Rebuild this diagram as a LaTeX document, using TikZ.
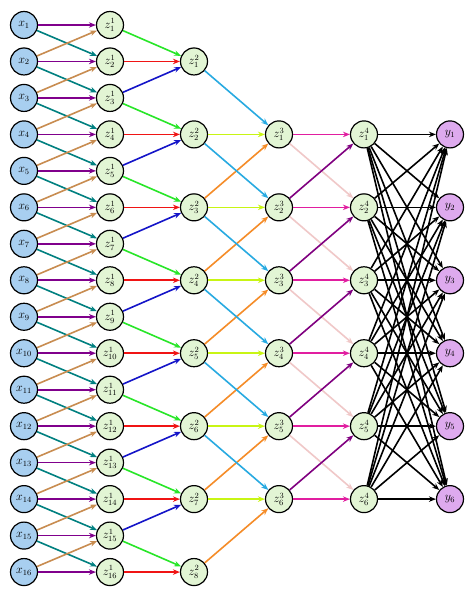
\documentclass[tikz,border=0pt]{standalone}
\usetikzlibrary{arrows.meta}
\definecolor{xfill}{RGB}{168,207,240}
\definecolor{zfill}{RGB}{226,245,212}
\definecolor{yfill}{RGB}{222,170,238}
\definecolor{cpurple}{RGB}{128,0,140}
\definecolor{cteal}{RGB}{0,128,128}
\definecolor{ctan}{RGB}{200,140,80}
\definecolor{cgreen}{RGB}{40,230,40}
\definecolor{cred}{RGB}{240,20,20}
\definecolor{cblue}{RGB}{20,20,200}
\definecolor{ccyan}{RGB}{40,170,225}
\definecolor{clime}{RGB}{200,245,20}
\definecolor{corange}{RGB}{245,140,40}
\definecolor{cmag}{RGB}{225,30,160}
\definecolor{cpink}{RGB}{240,200,200}
\definecolor{cdpurple}{RGB}{128,0,128}
\begin{document}
\begin{tikzpicture}[x=1pt,y=-1pt,
  nd/.style={circle,draw=black,line width=1.2pt,minimum size=27pt,inner sep=0pt,font=\large},
  xn/.style={nd,fill=xfill},
  zn/.style={nd,fill=zfill},
  yn/.style={nd,fill=yfill},
  ed/.style={line width=1.6pt,-{Stealth[length=7pt,width=5.5pt]}}]
\useasboundingbox (0,0) rectangle (474,597);
\fill[white] (0,0) rectangle (474,597);
\foreach \i in {1,...,16}{
  \pgfmathsetmacro\yy{25+(\i-1)*36.47}
  \node[xn] (x\i) at (24,\yy) {$x_{\i}$};
  \node[zn] (za\i) at (110,\yy) {$z^{1}_{\i}$};
}
\foreach \i in {1,...,8}{
  \pgfmathsetmacro\yy{25+(2*\i-1)*36.47}
  \node[zn] (zb\i) at (194,\yy) {$z^{2}_{\i}$};
}
\foreach \i in {1,...,6}{
  \pgfmathsetmacro\yy{25+(2*\i+1)*36.47}
  \node[zn] (zc\i) at (279,\yy) {$z^{3}_{\i}$};
  \node[zn] (zd\i) at (364,\yy) {$z^{4}_{\i}$};
  \node[yn] (y\i) at (450,\yy) {$y_{\i}$};
}
% layer 1
\foreach \i in {1,...,16}{ \draw[ed,cpurple] (x\i) -- (za\i); }
\foreach \i in {1,...,15}{
  \pgfmathtruncatemacro\j{\i+1}
  \draw[ed,cteal] (x\i) -- (za\j);
  \draw[ed,ctan] (x\j) -- (za\i);
}
% layer 2
\foreach \i in {1,...,8}{
  \pgfmathtruncatemacro\a{2*\i-1}
  \pgfmathtruncatemacro\b{2*\i}
  \pgfmathtruncatemacro\c{2*\i+1}
  \draw[ed,cgreen] (za\a) -- (zb\i);
  \draw[ed,cred] (za\b) -- (zb\i);
  \ifnum\c<17 \draw[ed,cblue] (za\c) -- (zb\i); \fi
}
% layer 3
\foreach \j in {1,...,6}{
  \pgfmathtruncatemacro\b{\j+1}
  \pgfmathtruncatemacro\c{\j+2}
  \draw[ed,ccyan] (zb\j) -- (zc\j);
  \draw[ed,clime] (zb\b) -- (zc\j);
  \draw[ed,corange] (zb\c) -- (zc\j);
}
% layer 4
\foreach \j in {1,...,6}{ \draw[ed,cmag] (zc\j) -- (zd\j); }
\foreach \j in {1,...,5}{
  \pgfmathtruncatemacro\k{\j+1}
  \draw[ed,cpink] (zc\j) -- (zd\k);
  \draw[ed,cdpurple] (zc\k) -- (zd\j);
}
% output
\foreach \j in {1,...,6}{
  \foreach \k in {1,...,6}{
    \draw[ed,black] (zd\j) -- (y\k);
  }
}
\end{tikzpicture}
\end{document}
